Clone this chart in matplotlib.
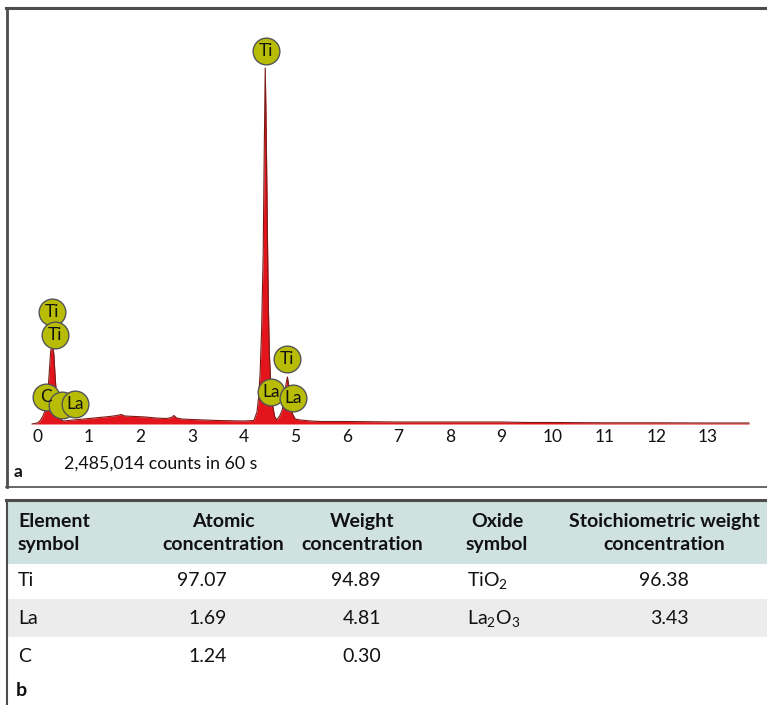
import matplotlib
matplotlib.use("Agg")
import matplotlib.pyplot as plt
from matplotlib.lines import Line2D
from matplotlib.patches import Rectangle

plt.rcParams['font.family'] = ['Lato', 'DejaVu Sans']
plt.rcParams['mathtext.fontset'] = 'custom'
plt.rcParams['mathtext.rm'] = 'Lato'

# ---------------- data ----------------
energy_kev = [-0.10, 0.00, 0.05, 0.10, 0.14, 0.17, 0.20, 0.23, 0.26, 0.29, 0.32, 0.35,
              0.38, 0.42, 0.46, 0.50, 0.60, 0.80, 1.00, 1.20, 1.40, 1.55, 1.62, 1.70,
              1.90, 2.10, 2.30, 2.50, 2.60, 2.65, 2.70, 2.80, 3.00, 3.50, 4.00, 4.20,
              4.26, 4.29, 4.32, 4.35, 4.38, 4.40, 4.42, 4.44, 4.46, 4.48, 4.50, 4.53,
              4.56, 4.60, 4.64, 4.70, 4.75, 4.79, 4.82, 4.85, 4.88, 4.91, 4.95, 5.00,
              5.10, 5.30, 5.50, 6.00, 7.00, 8.00, 9.00, 9.50, 10.00, 11.00, 12.00,
              13.00, 13.80]
counts = [0, 100, 300, 700, 1200, 1600, 2800, 5000, 7300, 8100, 7000, 4400,
          2300, 1000, 450, 300, 350, 450, 550, 650, 750, 850, 950, 800,
          750, 700, 600, 550, 650, 850, 600, 500, 450, 350, 300, 350,
          1200, 2600, 5000, 9500, 17000, 27000, 35600, 29000, 20000, 12000, 7000, 3800,
          2000, 800, 400, 800, 1400, 2600, 3900, 4700, 3700, 2200, 1000, 500,
          400, 300, 250, 250, 200, 200, 200, 150, 150, 120, 120,
          100, 100]

peak_labels = ["Ti", "Ti", "Ti", "C", "", "La", "Ti", "La", "La"]
peak_label_kev = [4.43, 0.28, 0.34, 0.16, 0.47, 0.73, 4.85, 4.54, 4.96]
peak_label_counts = [37300, 11200, 8900, 2700, 1900, 2000, 6500, 3200, 2600]

count_note = "2,485,014 counts in 60 s"
x_ticks = list(range(0, 14))

col_headers = ["Element\nsymbol", "Atomic\nconcentration", "Weight\nconcentration",
               "Oxide\nsymbol", "Stoichiometric weight\nconcentration"]
elements = ["Ti", "La", "C"]
atomic_conc = ["97.07", "1.69", "1.24"]
weight_conc = ["94.89", "4.81", "0.30"]
oxides = [r"TiO$_\mathrm{2}$", r"La$_\mathrm{2}$O$_\mathrm{3}$", ""]
stoich_conc = ["96.38", "3.43", ""]

# ---------------- figure ----------------
W, H = 767, 705
fig = plt.figure(figsize=(W / 100, H / 100), dpi=100)


def fx(px):
    return px / W


def fy(py):
    return 1 - py / H


# spectrum axes (pixel box: x 8..765, y 8..440)
px_per_kev = 51.57
x0_px = 37.3
ax = fig.add_axes([fx(8), fy(440), (765 - 8) / W, (440 - 8) / H])
ax.set_xlim(-(x0_px - 8) / px_per_kev, (765 - x0_px) / px_per_kev)
ax.set_ylim(-1600, 41600)
ax.axis('off')

ax.fill_between(energy_kev, counts, 0, color='#e3141c', lw=0, zorder=2)
ax.plot(energy_kev, counts, color='#7a1a14', lw=0.8, zorder=3)

for t in x_ticks:
    ax.text(t, -1300, str(t), ha='center', va='center', fontsize=12.5,
            color='#111111', clip_on=False)

for lab, e, c in zip(peak_labels, peak_label_kev, peak_label_counts):
    ax.scatter([e], [c], s=370, color='#b9bc04', edgecolor='#555555',
               linewidths=1.0, zorder=5, clip_on=False)
    if lab:
        ax.text(e, c, lab, ha='center', va='center', fontsize=12.5,
                color='#111111', zorder=6)

# panel a frame and texts
line_kw = dict(transform=fig.transFigure, color='#4d4d4d')
fig.add_artist(Line2D([fx(6), fx(767)], [fy(8), fy(8)], lw=2.2, **line_kw))
fig.add_artist(Line2D([fx(7), fx(7)], [fy(8), fy(487)], lw=2.0, **line_kw))
fig.add_artist(Line2D([fx(6), fx(767)], [fy(487), fy(487)], lw=1.2, **line_kw))

fig.text(fx(64), fy(464), count_note, ha='left', va='center', fontsize=12.8,
         color='#111111')
fig.text(fx(14), fy(472), "a", ha='left', va='center', fontsize=12.5,
         fontweight='bold', color='#111111')

# ---------------- table (panel b) ----------------
fig.add_artist(Rectangle((fx(7), fy(564)), fx(767) - fx(7), fy(501) - fy(564),
                         transform=fig.transFigure, facecolor='#cfe2df',
                         edgecolor='none'))
fig.add_artist(Rectangle((fx(7), fy(637)), fx(767) - fx(7), fy(599) - fy(637),
                         transform=fig.transFigure, facecolor='#ececec',
                         edgecolor='none'))
fig.add_artist(Line2D([fx(6), fx(767)], [fy(500), fy(500)], lw=2.2, **line_kw))
fig.add_artist(Line2D([fx(7), fx(7)], [fy(500), fy(705)], lw=1.5, **line_kw))

hdr_x = [18, 223, 362, 497, 664]
hdr_ha = ['left', 'center', 'center', 'center', 'center']
for txt, x, ha in zip(col_headers, hdr_x, hdr_ha):
    fig.text(fx(x), fy(533), txt, ha=ha, va='center', fontsize=14,
             fontweight='bold', color='#111111', linespacing=1.45,
             multialignment='center' if ha == 'center' else 'left')

row_y = [581, 619, 656]
for i, y in enumerate(row_y):
    fig.text(fx(18), fy(y), elements[i], ha='left', va='center', fontsize=14, color='#111111')
    fig.text(fx(227), fy(y), atomic_conc[i], ha='right', va='center', fontsize=14, color='#111111')
    fig.text(fx(381), fy(y), weight_conc[i], ha='right', va='center', fontsize=14, color='#111111')
    if oxides[i]:
        fig.text(fx(467), fy(y), oxides[i], ha='left', va='center', fontsize=14, color='#111111')
    if stoich_conc[i]:
        fig.text(fx(689), fy(y), stoich_conc[i], ha='right', va='center', fontsize=14, color='#111111')

fig.text(fx(16), fy(690), "b", ha='left', va='center', fontsize=14,
         fontweight='bold', color='#111111')

fig.savefig("out.png", dpi=100)
